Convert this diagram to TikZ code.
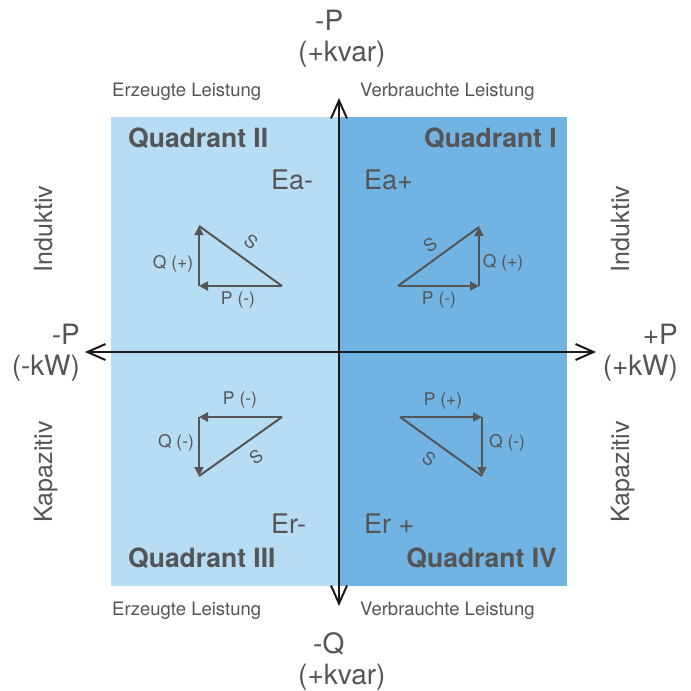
\documentclass[tikz,border=0pt]{standalone}
\usepackage{fontspec}
\setmainfont{TeX Gyre Heros}
\usetikzlibrary{arrows.meta}

\definecolor{hellblau}{RGB}{183,221,245}
\definecolor{dunkelblau}{RGB}{113,180,228}
\definecolor{textgrau}{RGB}{85,85,85}
\definecolor{achsgrau}{RGB}{26,26,26}

\begin{document}
\begin{tikzpicture}[
    x=1pt, y=-1pt,
    titel/.style={
        font=\fontsize{26.5}{28}\selectfont\bfseries,
        text=textgrau,
        inner sep=0pt
    },
    energie/.style={
        font=\fontsize{27}{29}\selectfont,
        text=textgrau,
        inner sep=0pt
    },
    achslabel/.style={
        font=\fontsize{28}{31}\selectfont,
        text=textgrau,
        inner sep=0pt
    },
    seite/.style={
        font=\fontsize{25}{27}\selectfont,
        text=textgrau,
        inner sep=0pt,
        rotate=90,
        anchor=base
    },
    leistung/.style={
        font=\fontsize{18.5}{20}\selectfont,
        text=textgrau,
        inner sep=0pt
    },
    klein/.style={
        font=\fontsize{17.5}{19}\selectfont,
        text=textgrau,
        inner sep=0pt
    },
    achse/.style={arrows={Straight Barb[length=18pt,width=16pt]-Straight Barb[length=18pt,width=16pt]}, line width=2pt, draw=achsgrau},
    vektor/.style={-{Triangle[length=9pt,width=9pt]}, line width=2pt, draw=textgrau},
    hypo/.style={line width=2pt, draw=textgrau}
]
\useasboundingbox (0,0) rectangle (691,691);

% Quadranten
\fill[hellblau] (111,117) rectangle (339,586);
\fill[dunkelblau] (339,117) rectangle (567,586);

% Achsen
\coordinate (oben) at (339,98);
\coordinate (unten) at (339,606);
\coordinate (links) at (85,352);
\coordinate (rechts) at (596,352);
\draw[achse] (unten) -- (oben);
\draw[achse] (links) -- (rechts);

% Achsenbeschriftung
\node[achslabel, align=left, anchor=north west] (poben) at (298,10) {\hspace*{17pt}-P\\(+kvar)};
\node[achslabel, align=left, anchor=north west] (qunten) at (298,632) {\hspace*{15pt}-Q\\(+kvar)};
\node[achslabel, align=right, anchor=north east] (plinks) at (80,324) {-P\\(-kW)};
\node[achslabel, align=right, anchor=north east] (prechts) at (678,324) {+P\\(+kW)};

% Leistung
\node[leistung, anchor=base west] (erzoben) at (112,96) {Erzeugte Leistung};
\node[leistung, anchor=base west] (verboben) at (360,96) {Verbrauchte Leistung};
\node[leistung, anchor=base west] (erzunten) at (112,615) {Erzeugte Leistung};
\node[leistung, anchor=base west] (verbunten) at (360,615) {Verbrauchte Leistung};

% Seiten
\node[seite] (indlinks) at (52,229) {Induktiv};
\node[seite] (kaplinks) at (52,472) {Kapazitiv};
\node[seite] (indrechts) at (629,229) {Induktiv};
\node[seite] (kaprechts) at (629,472) {Kapazitiv};

% Titel
\node[titel, anchor=base west] (quad2) at (128,147) {Quadrant II};
\node[titel, anchor=base east] (quad1) at (557,147) {Quadrant I};
\node[titel, anchor=base west] (quad3) at (128,567) {Quadrant III};
\node[titel, anchor=base east] (quad4) at (557,567) {Quadrant IV};

\node[energie, anchor=base west] (eaminus) at (271,189) {Ea-};
\node[energie, anchor=base west] (eaplus) at (364,189) {Ea+};
\node[energie, anchor=base west] (erminus) at (271,533) {Er-};
\node[energie, anchor=base west] (erplus) at (364,533) {Er +};

% Dreieck II
\coordinate (d2s) at (199,226);
\coordinate (d2e) at (199,286);
\coordinate (d2r) at (282,286);
\draw[vektor] (d2r) -- (d2e);
\draw[vektor] (d2e) -- (d2s);
\draw[hypo] (d2s) -- (d2r);
\node[klein] (d2q) at (173,264) {Q (+)};
\node[klein] (d2p) at (238,300) {P (-)};
\node[klein, rotate=-36] (d2h) at (251,242) {S};

% Dreieck I
\coordinate (d1l) at (398,286);
\coordinate (d1e) at (479,286);
\coordinate (d1s) at (479,227);
\draw[vektor] (d1l) -- (d1e);
\draw[vektor] (d1e) -- (d1s);
\draw[hypo] (d1l) -- (d1s);
\node[klein] (d1q) at (503,263) {Q (+)};
\node[klein] (d1p) at (439,300) {P (-)};
\node[klein, rotate=36] (d1h) at (430,245) {S};

% Dreieck III
\coordinate (d3r) at (282,417);
\coordinate (d3e) at (199,417);
\coordinate (d3u) at (199,476);
\draw[vektor] (d3r) -- (d3e);
\draw[vektor] (d3e) -- (d3u);
\draw[hypo] (d3u) -- (d3r);
\node[klein] (d3p) at (240,400) {P (-)};
\node[klein] (d3q) at (176,443) {Q (-)};
\node[klein, rotate=36] (d3h) at (256,457) {S};

% Dreieck IV
\coordinate (d4l) at (400,417);
\coordinate (d4e) at (482,417);
\coordinate (d4u) at (482,476);
\draw[vektor] (d4l) -- (d4e);
\draw[vektor] (d4e) -- (d4u);
\draw[hypo] (d4l) -- (d4u);
\node[klein] (d4p) at (443,401) {P (+)};
\node[klein] (d4q) at (507,443) {Q (-)};
\node[klein, rotate=-36] (d4h) at (429,459) {S};

\end{tikzpicture}
\end{document}
